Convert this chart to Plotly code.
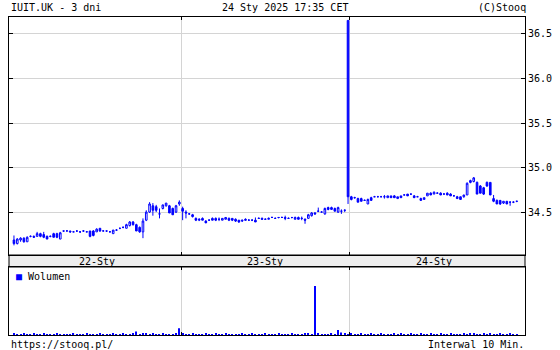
import plotly.graph_objects as go

BLUE = "#0000ff"
GRID = "#d4d4d4"
FONT = "DejaVu Sans Mono"

title_left = "IUIT.UK - 3 dni"
title_mid = "24 Sty 2025 17:35 CET"
title_right = "(C)Stooq"
foot_left = "https://stooq.pl/"
foot_right = "Interwal 10 Min."
day_labels = ["22-Sty", "23-Sty", "24-Sty"]
bars_per_day = 51
price_ticks = [34.5, 35.0, 35.5, 36.0, 36.5]

open_ = [
    # 22-Sty
    34.20, 34.16, 34.20, 34.22, 34.18, 34.24, 34.24, 34.24, 34.27, 34.26,
    34.24, 34.24, 34.27, 34.27, 34.21, 34.30, 34.30, 34.30, 34.29, 34.30,
    34.29, 34.30, 34.29, 34.30, 34.30, 34.29, 34.33, 34.30, 34.30, 34.29,
    34.27, 34.31, 34.33, 34.34, 34.33, 34.36, 34.40, 34.37, 34.34, 34.29,
    34.42, 34.51, 34.58, 34.57, 34.49, 34.55, 34.58, 34.58, 34.55, 34.51,
    34.60,
    # 23-Sty
    34.55, 34.51, 34.49, 34.48, 34.44, 34.42, 34.44, 34.41, 34.42, 34.44,
    34.44, 34.43, 34.42, 34.43, 34.44, 34.44, 34.43, 34.42, 34.41, 34.43,
    34.42, 34.42, 34.42, 34.44, 34.44, 34.43, 34.43, 34.45, 34.44, 34.45,
    34.45, 34.45, 34.44, 34.45, 34.43, 34.45, 34.44, 34.43, 34.44, 34.47,
    34.50, 34.52, 34.51, 34.49, 34.56, 34.56, 34.55, 34.51, 34.52, 34.53,
    36.64,
    # 24-Sty
    34.68, 34.67, 34.66, 34.66, 34.64, 34.60, 34.67, 34.68, 34.68, 34.68,
    34.68, 34.67, 34.69, 34.69, 34.66, 34.69, 34.70, 34.71, 34.71, 34.69,
    34.68, 34.66, 34.65, 34.69, 34.72, 34.71, 34.72, 34.72, 34.71, 34.72,
    34.71, 34.69, 34.68, 34.68, 34.68, 34.70, 34.86, 34.85, 34.84, 34.80,
    34.78, 34.84, 34.84, 34.66, 34.64, 34.64, 34.61, 34.63, 34.62, 34.62,
    34.63,
]
high = [
    34.25, 34.22, 34.23, 34.23, 34.24, 34.25, 34.25, 34.29, 34.28, 34.29,
    34.25, 34.25, 34.28, 34.28, 34.29, 34.30, 34.31, 34.30, 34.30, 34.30,
    34.30, 34.31, 34.30, 34.30, 34.31, 34.33, 34.33, 34.31, 34.30, 34.30,
    34.31, 34.32, 34.33, 34.35, 34.38, 34.41, 34.41, 34.38, 34.35, 34.44,
    34.53, 34.62, 34.61, 34.59, 34.55, 34.59, 34.61, 34.59, 34.56, 34.59,
    34.64,
    34.57, 34.53, 34.50, 34.49, 34.45, 34.44, 34.45, 34.42, 34.43, 34.45,
    34.45, 34.45, 34.44, 34.45, 34.45, 34.44, 34.44, 34.42, 34.42, 34.44,
    34.43, 34.43, 34.45, 34.45, 34.45, 34.44, 34.45, 34.46, 34.45, 34.45,
    34.46, 34.47, 34.45, 34.45, 34.46, 34.46, 34.46, 34.44, 34.49, 34.51,
    34.51, 34.56, 34.52, 34.56, 34.57, 34.57, 34.56, 34.57, 34.54, 34.54,
    36.64,
    34.69, 34.68, 34.67, 34.67, 34.65, 34.66, 34.68, 34.69, 34.69, 34.69,
    34.70, 34.69, 34.69, 34.70, 34.68, 34.69, 34.71, 34.71, 34.71, 34.70,
    34.69, 34.67, 34.67, 34.72, 34.73, 34.74, 34.73, 34.73, 34.72, 34.73,
    34.72, 34.70, 34.69, 34.68, 34.70, 34.84, 34.87, 34.90, 34.85, 34.81,
    34.79, 34.85, 34.84, 34.70, 34.65, 34.64, 34.63, 34.63, 34.63, 34.63,
    34.63,
]
low = [
    34.14, 34.15, 34.18, 34.17, 34.18, 34.23, 34.23, 34.24, 34.23, 34.22,
    34.21, 34.23, 34.23, 34.22, 34.21, 34.29, 34.30, 34.28, 34.29, 34.29,
    34.28, 34.29, 34.29, 34.23, 34.24, 34.29, 34.29, 34.30, 34.29, 34.29,
    34.27, 34.30, 34.32, 34.33, 34.33, 34.35, 34.36, 34.30, 34.28, 34.22,
    34.41, 34.50, 34.47, 34.51, 34.44, 34.54, 34.57, 34.50, 34.48, 34.50,
    34.58,
    34.42, 34.44, 34.48, 34.45, 34.41, 34.41, 34.42, 34.39, 34.42, 34.42,
    34.41, 34.41, 34.42, 34.43, 34.41, 34.41, 34.40, 34.39, 34.40, 34.42,
    34.42, 34.41, 34.40, 34.44, 34.43, 34.43, 34.43, 34.45, 34.44, 34.44,
    34.45, 34.42, 34.44, 34.44, 34.43, 34.43, 34.42, 34.38, 34.44, 34.46,
    34.48, 34.51, 34.51, 34.48, 34.53, 34.54, 34.52, 34.50, 34.49, 34.51,
    34.60,
    34.64, 34.66, 34.62, 34.63, 34.64, 34.60, 34.64, 34.68, 34.68, 34.68,
    34.66, 34.67, 34.67, 34.67, 34.66, 34.67, 34.70, 34.69, 34.70, 34.67,
    34.68, 34.64, 34.65, 34.69, 34.70, 34.71, 34.72, 34.70, 34.71, 34.70,
    34.69, 34.69, 34.66, 34.65, 34.67, 34.70, 34.83, 34.84, 34.71, 34.72,
    34.70, 34.79, 34.70, 34.62, 34.60, 34.59, 34.60, 34.60, 34.58, 34.61,
    34.62,
]
close = [
    34.16, 34.21, 34.22, 34.18, 34.23, 34.24, 34.23, 34.27, 34.24, 34.23,
    34.21, 34.24, 34.23, 34.23, 34.28, 34.30, 34.30, 34.29, 34.29, 34.30,
    34.29, 34.30, 34.29, 34.24, 34.25, 34.32, 34.30, 34.30, 34.30, 34.29,
    34.31, 34.31, 34.33, 34.34, 34.37, 34.40, 34.37, 34.30, 34.29, 34.41,
    34.51, 34.60, 34.53, 34.53, 34.49, 34.59, 34.61, 34.50, 34.48, 34.58,
    34.62,
    34.52, 34.50, 34.49, 34.46, 34.42, 34.43, 34.42, 34.39, 34.42, 34.42,
    34.42, 34.43, 34.44, 34.45, 34.42, 34.42, 34.41, 34.40, 34.42, 34.42,
    34.42, 34.42, 34.40, 34.44, 34.43, 34.43, 34.44, 34.45, 34.44, 34.45,
    34.45, 34.44, 34.44, 34.45, 34.45, 34.43, 34.44, 34.42, 34.48, 34.50,
    34.49, 34.52, 34.51, 34.55, 34.54, 34.54, 34.52, 34.56, 34.52, 34.53,
    34.68,
    34.65, 34.67, 34.62, 34.63, 34.64, 34.65, 34.64, 34.68, 34.68, 34.68,
    34.68, 34.69, 34.67, 34.67, 34.68, 34.67, 34.70, 34.69, 34.71, 34.67,
    34.68, 34.64, 34.67, 34.72, 34.70, 34.73, 34.72, 34.70, 34.71, 34.70,
    34.69, 34.69, 34.66, 34.65, 34.70, 34.83, 34.84, 34.89, 34.71, 34.72,
    34.71, 34.80, 34.70, 34.63, 34.60, 34.60, 34.63, 34.60, 34.62, 34.62,
    34.63,
]
volume = [
    2.5, 2, 2, 2.5, 2, 2, 2.5, 2, 2, 2.5, 2, 2, 2, 2.5, 2, 2, 2, 2, 2.5, 2,
    2, 2, 2.5, 2, 2, 2, 2.5, 2, 2, 2, 2.5, 2, 2, 2.5, 2, 2, 2.5, 7, 2, 4,
    3.5, 2, 2.5, 2, 2, 2.5, 2, 2, 2, 2.5, 14,
    2.5, 2, 2, 2.5, 2, 2, 2, 2.5, 2, 2, 3.5, 2, 2, 2.5, 2, 2, 2, 2, 2.5, 2,
    2, 2.5, 2, 2, 2, 2.5, 2, 2, 2, 2.5, 2, 2, 2, 2.5, 2, 2, 2, 2.5, 4, 2,
    100, 2.5, 2, 2, 2, 2.5, 2, 10, 5, 4, 2,
    2.5, 2, 2, 2.5, 2, 2, 2.5, 2, 2, 2.5, 2, 2, 2, 4, 2, 2.5, 2, 2, 2.5, 2,
    2, 2.5, 2, 2, 2.5, 2, 2, 2.5, 2, 2, 2.5, 2, 2, 2, 2.5, 2, 4, 3.5, 2, 2,
    2.5, 2, 3.5, 2, 2, 2.5, 2, 2, 3.5, 2, 2,
]

x = list(range(len(open_)))
n_days = len(day_labels)
centers = [d * bars_per_day + (bars_per_day - 1) / 2 for d in range(n_days)]
bounds = [d * bars_per_day - 0.5 for d in range(1, n_days)]

fig = go.Figure()
fig.add_trace(go.Candlestick(
    x=x, open=open_, high=high, low=low, close=close,
    increasing=dict(line=dict(color=BLUE, width=1), fillcolor="white"),
    decreasing=dict(line=dict(color=BLUE, width=1), fillcolor=BLUE),
    whiskerwidth=0, xaxis="x", yaxis="y", showlegend=False,
))
fig.add_trace(go.Bar(
    x=x, y=volume, width=0.35, marker=dict(color=BLUE, line=dict(width=0)),
    xaxis="x2", yaxis="y2", showlegend=False,
))

# pixel layout helpers
W, H = 560, 350
ML, MR, MT, MB = 8, 30, 17, 15
plot_h = H - MT - MB
plot_w = W - ML - MR
def py(pix):
    return (H - MB - pix) / plot_h
def px(pix):
    return (pix - ML) / plot_w

price_bottom = py(255)
vol_top = py(267)

minor = dict(tickmode="array", tickvals=bounds, ticks="inside", ticklen=3,
             tickcolor="black", showgrid=True, gridcolor=GRID, gridwidth=1)

fig.update_layout(
    width=W, height=H,
    margin=dict(l=ML, r=MR, t=MT, b=MB),
    paper_bgcolor="white", plot_bgcolor="white",
    font=dict(family=FONT, size=10, color="black"),
    showlegend=False,
    xaxis=dict(domain=[0, 1], anchor="y", range=[-1.5, 154.5],
               tickmode="array", tickvals=centers, ticktext=day_labels,
               showticklabels=False,
               ticks="", showgrid=False, zeroline=False,
               showline=True, linecolor="black", linewidth=1, mirror="ticks",
               minor=minor, rangeslider=dict(visible=False)),
    yaxis=dict(domain=[price_bottom, 1], anchor="x", side="right",
               range=[34.033, 36.678], tickmode="array", tickvals=price_ticks,
               ticktext=[f"{v:.1f}" for v in price_ticks],
               showgrid=True, gridcolor=GRID, zeroline=False,
               showline=True, linecolor="black", linewidth=1, mirror="ticks",
               ticks="inside", ticklen=4, tickcolor="black"),
    xaxis2=dict(domain=[0, 1], anchor="y2", matches="x", showticklabels=False,
                ticks="", showgrid=False, zeroline=False,
                showline=True, linecolor="black", linewidth=1, mirror="ticks",
                minor=minor),
    yaxis2=dict(domain=[0, vol_top], anchor="x2", range=[0, 139],
                showticklabels=False, showgrid=False, zeroline=False,
                showline=True, linecolor="black", linewidth=1, mirror=True,
                ticks=""),
    shapes=[dict(type="rect", xref="paper", yref="paper", x0=0, x1=1,
                 y0=vol_top, y1=price_bottom, fillcolor="#eeeeee",
                 line=dict(color="black", width=1), layer="below")],
)

# day labels inside the grey band, positioned on the shared x axis
for c, lab in zip(centers, day_labels):
    fig.add_annotation(text=lab, x=c, xref="x", y=py(261), yref="paper",
                       xanchor="center", yanchor="middle", showarrow=False,
                       font=dict(family=FONT, size=10, color="black"))

def note(text, xp, yp, anchor):
    fig.add_annotation(text=text, x=px(xp), y=py(yp), xref="paper", yref="paper",
                       xanchor=anchor, yanchor="middle", showarrow=False,
                       font=dict(family=FONT, size=10, color="black"))

note(title_left, 8, 8, "left")
note(title_mid, 287, 8, "center")
note(title_right, 533, 8, "right")
note(foot_left, 8, 344, "left")
note(foot_right, 531, 344, "right")
note(f'<span style="color:{BLUE}">■</span> Wolumen', 13, 276, "left")

fig.write_html("out.html")
